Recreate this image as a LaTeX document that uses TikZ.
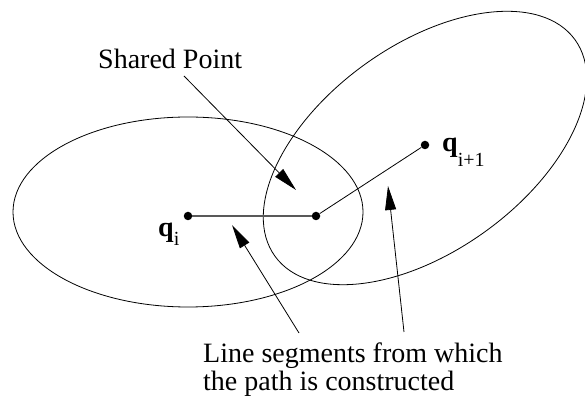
\documentclass[tikz,border=0pt]{standalone}
\usepackage{fontspec}
\setmainfont{Liberation Serif}
\usetikzlibrary{arrows.meta}
\begin{document}
\begin{tikzpicture}[x=1pt,y=1pt,
  outline/.style={draw=black,line width=0.8pt},
  dotnode/.style={circle,fill=black,inner sep=0pt,minimum size=8.5pt},
  segment/.style={draw=black,line width=0.8pt},
  pointer/.style={draw=black,line width=0.8pt,-{Triangle[length=24pt,width=11pt]}},
  lbl/.style={inner sep=0pt,font=\fontsize{28}{29}\selectfont}
]
\useasboundingbox (0,0) rectangle (585,398);
% ellipses
\draw[outline] (188,186) ellipse [x radius=175, y radius=95];
\draw[outline] (425,250) ellipse [x radius=185, y radius=103, rotate=35.8];
% points
\node[dotnode] (qi) at (188,182) {};
\node[dotnode] (sp) at (316,182) {};
\node[dotnode] (qn) at (425,253) {};
\draw[segment,draw=black!65,line width=1.4pt] (qi) -- (sp);
\draw[segment] (sp) -- (qn);
% labels
\node[lbl,anchor=base west] (qil) at (158,161) {\textbf{q}\raisebox{-9pt}{\fontsize{20}{20}\selectfont i}};
\node[lbl,anchor=base west] (qnl) at (442,246) {\textbf{q}\raisebox{-15pt}{\fontsize{20}{20}\selectfont i+1}};
\node[lbl,anchor=base west] (shared) at (98,329) {Shared Point};
\node[lbl,anchor=base west] (seg1) at (203,35) {Line segments from which};
\node[lbl,anchor=base west] (seg2) at (203,7) {the path is constructed};
% arrows
\coordinate (a1s) at (184,322);
\coordinate (a1t) at (296,208);
\coordinate (a2s) at (299,65);
\coordinate (a2t) at (232,173);
\coordinate (a3s) at (404,66);
\coordinate (a3t) at (388,212);
\draw[pointer] (a1s) -- (a1t);
\draw[pointer] (a2s) -- (a2t);
\draw[pointer] (a3s) -- (a3t);
\end{tikzpicture}
\end{document}
